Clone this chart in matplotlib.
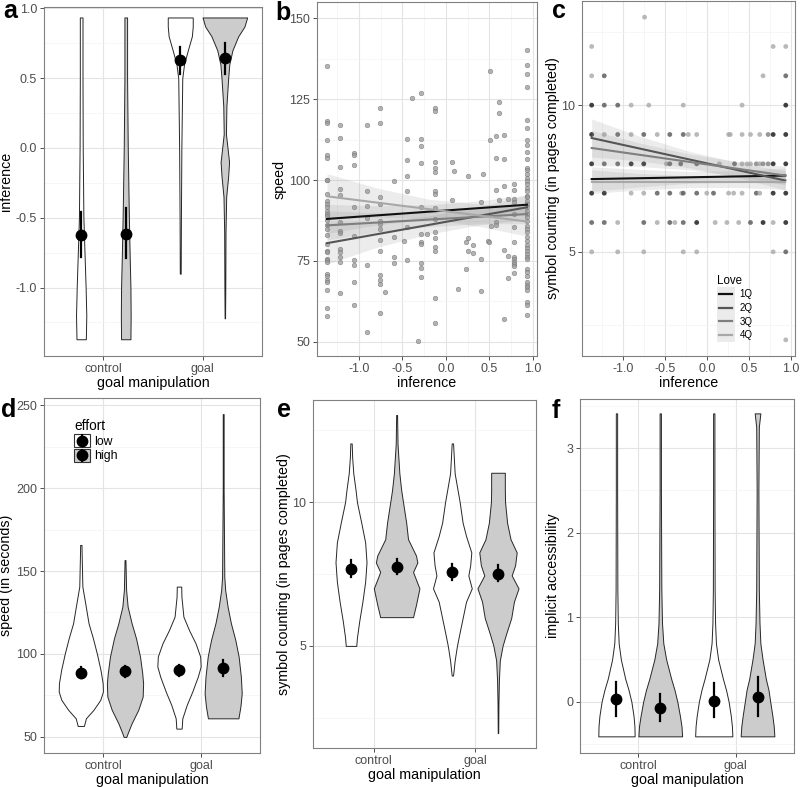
import numpy as np
import matplotlib
matplotlib.use("Agg")
import matplotlib.pyplot as plt
from matplotlib.lines import Line2D
from matplotlib.patches import Patch, Rectangle
from matplotlib.legend_handler import HandlerBase
from matplotlib.ticker import MultipleLocator

plt.rcParams["font.family"] = ["Liberation Sans", "DejaVu Sans"]

W, H = 800, 787

# ---- shared categories ----
groups = ["control", "goal"]
effort = ["low", "high"]
effort_fill = ["white", "#cccccc"]
love = ["1Q", "2Q", "3Q", "4Q"]
love_col = ["#111111", "#555555", "#7f7f7f", "#a8a8a8"]

# ---- panel a: inference by goal x effort (violins: y levels, relative widths) ----
# order: control-low, control-high, goal-low, goal-high
a_vy = [
    [-1.37, -1.2, -1.0, -0.75, -0.5, 0.0, 0.5, 0.935],
    [-1.37, -1.2, -1.0, -0.8, -0.5, 0.0, 0.5, 0.935],
    [-0.9, -0.5, 0.0, 0.5, 0.6, 0.7, 0.8, 0.87, 0.935],
    [-1.22, -1.0, -0.6, -0.35, -0.2, -0.1, 0.0, 0.1, 0.3, 0.5, 0.6, 0.7, 0.8, 0.87, 0.935],
]
a_vw = [
    [0.21, 0.23, 0.2, 0.15, 0.1, 0.07, 0.06, 0.06],
    [0.21, 0.22, 0.21, 0.18, 0.14, 0.09, 0.06, 0.06],
    [0.02, 0.03, 0.05, 0.09, 0.17, 0.34, 0.52, 0.56, 0.56],
    [0.01, 0.02, 0.03, 0.06, 0.15, 0.19, 0.12, 0.05, 0.07, 0.15, 0.2, 0.34, 0.6, 0.88, 1.0],
]
a_mean = [-0.62, -0.615, 0.63, 0.643]
a_lo = [-0.78, -0.79, 0.53, 0.53]
a_hi = [-0.46, -0.43, 0.72, 0.75]

# ---- panel b: speed vs inference ----
b_cols_x = [-1.37, -1.22, -1.06, -0.91, -0.755, -0.70, -0.60, -0.48, -0.447, -0.39,
            -0.32, -0.29, -0.22, -0.13, 0.07, 0.09, 0.135, 0.23, 0.25, 0.26, 0.31,
            0.41, 0.43, 0.48, 0.50, 0.51, 0.52, 0.58, 0.615, 0.67, 0.72, 0.78, 0.935]
b_cols_y = [
    [135.2, 118.3, 117.8, 112.4, 107.8, 106.7, 100, 100, 95.7, 93.6, 92.6, 91.6, 90.6,
     89.5, 88.8, 87.8, 86.2, 85, 82.9, 80.3, 78.2, 77.7, 75.7, 75.2, 74.6, 71, 70.5,
     69, 68.5, 65.9, 60.6, 58],
    [117, 113, 104.1, 97.4, 95.4, 87, 84.4, 83.7, 78.8, 77.7, 76.2, 74.6, 65.2],
    [108.5, 107.7, 104.8, 91.6, 82.7, 75.2, 73.8, 68.5, 61.3],
    [117.1, 96.5, 91.9, 88.2, 73.8, 53.1],
    [122.3, 117.7, 94.7, 92.6, 87.5, 86.5, 85, 81.5, 78, 70.8, 69.2, 68, 59],
    [65.4],
    [99.6, 82.3, 76.2, 74.3],
    [81.3],
    [112.6, 106.2, 101.4, 96.7, 85.4, 75.4],
    [125.3],
    [50.2],
    [127.1, 112.6, 110.6, 105.2, 91.6, 83.4, 80.8, 80.1, 74.4, 72.8, 70],
    [83.4],
    [122.4, 121.4, 105.6, 103.6, 102.6, 96.7, 95.7, 91.3, 88, 84.1, 82, 79.3, 78.2,
     63.4, 55.7],
    [105.6, 93.9],
    [102.9],
    [66.2],
    [80.8, 72.4],
    [101.4],
    [82, 78],
    [79.8, 77.4],
    [93.1, 75.5, 65.7],
    [102],
    [81.3],
    [81],
    [133.9, 112.5],
    [85.9],
    [113.7, 106.8, 97.1, 87, 86.2],
    [124.1, 120.8, 93.9],
    [114, 106.4, 98.2, 78.5, 57],
    [94.2, 76.5, 69.8],
    [98.8, 97.1, 94.2, 93.1, 89.5, 85.6, 81, 76.2, 75.5, 74.8, 74.1, 73.4, 71.4],
    [140.1, 135.5, 132.7, 128.8, 118.6, 116.1, 112.5, 110.9, 108.8, 106.4, 103.9,
     103.1, 101.9, 100.8, 99.8, 98.8, 97.7, 96.5, 95.2, 94.7, 93.6, 92.6, 91.6, 90.6,
     89.5, 88.5, 87.5, 85.9, 84.9, 83.9, 82.3, 81.3, 79.8, 78.9, 78.2, 77.2, 76.2,
     75.7, 72.6, 71.6, 70.5, 68.5, 67.7, 66.9, 65.9, 62.3, 61.3, 58.2],
]
fit_x = [-1.37, 0.935]
band_x = [-1.37, -0.8, -0.2, 0.4, 0.935]
b_fit_y = [[88.0, 92.4], [80.5, 91.6], [86.0, 89.5], [95.0, 87.2]]
b_band_lo = [[83.5, 86.1, 88.0, 89.2, 89.4], [74.0, 79.2, 83.3, 86.2, 87.8],
             [81.5, 83.9, 85.6, 86.5, 86.5], [88.0, 88.6, 88.1, 85.6, 82.7]]
b_band_hi = [[92.5, 92.1, 92.4, 93.6, 95.4], [87.0, 87.2, 88.9, 91.8, 95.4],
             [90.5, 89.9, 90.0, 90.9, 92.5], [102.0, 97.6, 94.1, 92.6, 91.7]]

# ---- panel c: symbol counting vs inference (point colour = Love quartile index) ----
c_x = [-0.74,
       -1.37, 0.79, 0.94,
       -1.37, -1.22, 0.67, 0.94,
       -1.37, -1.22, -1.06, -0.90, -0.69, -0.28, 0.42, 0.94,
       -1.37, -1.22, -1.06, -0.90, -0.75, -0.59, -0.44, -0.28, -0.22, -0.12, 0.26, 0.28,
       0.42, 0.52, 0.63, 0.73, 0.79, 0.94,
       -1.37, -1.22, -1.06, -0.90, -0.75, -0.48, -0.44, -0.31, -0.12, 0.15, 0.33, 0.42,
       0.48, 0.52, 0.59, 0.63, 0.67, 0.73, 0.79, 0.94,
       -1.37, -1.22, -0.90, -0.75, -0.59, -0.44, -0.30, -0.28, -0.12, 0.0, 0.08, 0.26,
       0.32, 0.42, 0.59, 0.63, 0.79, 0.94,
       -1.37, -1.22, -1.06, -0.75, -0.59, -0.44, -0.38, -0.28, -0.12, 0.10, 0.24, 0.38,
       0.52, 0.67, 0.79, 0.94,
       -1.37, -1.06, -0.75, -0.28, -0.12, 0.79, 0.94,
       0.94]
c_y = ([13] + [12] * 3 + [11] * 4 + [10] * 8 + [9] * 18 + [8] * 20 + [7] * 18
       + [6] * 16 + [5] * 7 + [2])
c_q = [3,
       3, 3, 3,
       3, 1, 3, 1,
       0, 1, 1, 3, 3, 3, 3, 0,
       0, 3, 1, 3, 1, 3, 1, 1, 3, 3, 3, 3, 3, 3, 3, 2, 0, 0,
       0, 1, 1, 0, 0, 3, 1, 1, 1, 3, 1, 3, 3, 3, 2, 3, 2, 2, 0, 0,
       0, 0, 3, 3, 1, 1, 3, 1, 1, 3, 1, 3, 3, 3, 1, 3, 0, 0,
       1, 1, 3, 1, 3, 1, 3, 1, 0, 3, 3, 3, 1, 0, 3, 0,
       3, 3, 3, 3, 3, 3, 1,
       3]
c_fit_y = [[7.48, 7.6], [8.88, 7.43], [8.54, 7.6], [7.39, 7.39]]
c_band_lo = [[7.06, 7.21, 7.34, 7.37, 7.34], [8.23, 8.10, 7.86, 7.52, 7.10],
             [7.94, 7.91, 7.79, 7.57, 7.28], [6.99, 7.11, 7.19, 7.19, 7.13]]
c_band_hi = [[7.90, 7.81, 7.74, 7.77, 7.86], [9.53, 8.94, 8.42, 8.02, 7.76],
             [9.14, 8.71, 8.33, 8.07, 7.92], [7.79, 7.67, 7.59, 7.59, 7.65]]

# ---- panel d: speed (in seconds) ----
d_vy = [
    [56.6, 61.2, 66.3, 72.3, 77.3, 82.3, 90.4, 100, 109.4, 118.5, 130.5, 140.6, 158.6, 165.7],
    [50, 52.2, 58.2, 66.3, 74.3, 82.3, 88.4, 98.4, 109.4, 118.5, 128.5, 138.6, 156.6],
    [55, 61.2, 69.3, 77.3, 86.3, 92.4, 98.4, 106.4, 114.5, 122.5, 134.5, 140.6],
    [61.2, 68.3, 76.3, 86.3, 98.4, 108.4, 118.5, 128.5, 138.6, 146.6, 198.8, 244.6],
]
d_vw = [
    [0.14, 0.23, 0.57, 0.88, 1.0, 0.99, 0.89, 0.73, 0.55, 0.35, 0.2, 0.07, 0.04, 0.03],
    [0.06, 0.12, 0.3, 0.6, 0.8, 0.82, 0.78, 0.68, 0.5, 0.3, 0.12, 0.05, 0.02],
    [0.12, 0.15, 0.35, 0.6, 0.85, 0.98, 0.96, 0.75, 0.45, 0.2, 0.11, 0.1],
    [0.69, 0.78, 0.84, 0.8, 0.7, 0.55, 0.35, 0.2, 0.09, 0.05, 0.02, 0.02],
]
d_mean = [88.8, 89.5, 90.1, 91.5]
d_lo = [85.5, 86.0, 86.8, 87.0]
d_hi = [92.2, 93.0, 93.5, 96.4]

# ---- panel e: symbol counting ----
e_vy = [
    [5.0, 5.29, 5.86, 6.54, 7.23, 7.91, 8.6, 9.28, 10.0, 10.42, 11.0, 11.56, 12.04],
    [6.0, 6.43, 7.0, 7.57, 7.9, 8.14, 8.71, 9.28, 10.0, 10.42, 11.0, 12.02, 13.03],
    [3.97, 4.49, 5.0, 5.4, 5.97, 6.54, 7.0, 7.45, 7.8, 8.25, 8.82, 9.28, 10.0, 11.0, 12.04],
    [1.97, 3.0, 3.8, 4.49, 5.0, 5.4, 5.97, 6.54, 7.0, 7.45, 7.8, 8.25, 8.71, 9.28,
     10.0, 10.42, 11.02],
]
e_vw = [
    [0.23, 0.26, 0.36, 0.5, 0.62, 0.68, 0.62, 0.45, 0.26, 0.2, 0.1, 0.05, 0.03],
    [0.72, 0.85, 1.0, 0.72, 0.91, 0.85, 0.5, 0.42, 0.28, 0.2, 0.12, 0.04, 0.02],
    [0.03, 0.1, 0.2, 0.3, 0.45, 0.6, 0.85, 0.7, 0.78, 0.83, 0.6, 0.45, 0.32, 0.1, 0.03],
    [0.01, 0.02, 0.04, 0.08, 0.2, 0.35, 0.58, 0.7, 0.9, 0.6, 0.75, 0.82, 0.55, 0.4,
     0.31, 0.3, 0.3],
]
e_mean = [7.66, 7.74, 7.57, 7.5]
e_lo = [7.4, 7.5, 7.3, 7.25]
e_hi = [7.97, 8.02, 7.85, 7.8]

# ---- panel f: implicit accessibility ----
f_vy = [-0.41, -0.29, -0.17, 0.0, 0.14, 0.27, 0.5, 0.69, 0.93, 1.32, 2.5, 3.25, 3.41]
f_vw = [
    [0.83, 0.82, 0.78, 0.68, 0.55, 0.4, 0.2, 0.1, 0.06, 0.04, 0.03, 0.03, 0.03],
    [1.0, 0.97, 0.9, 0.78, 0.65, 0.5, 0.27, 0.14, 0.08, 0.05, 0.03, 0.03, 0.03],
    [0.85, 0.83, 0.78, 0.68, 0.56, 0.42, 0.2, 0.1, 0.06, 0.04, 0.03, 0.03, 0.03],
    [0.77, 0.74, 0.68, 0.58, 0.5, 0.38, 0.23, 0.13, 0.09, 0.06, 0.04, 0.06, 0.13],
]
f_mean = [0.03, -0.08, 0.01, 0.055]
f_lo = [-0.17, -0.23, -0.18, -0.17]
f_hi = [0.23, 0.09, 0.22, 0.29]

DODGE = 0.225
slots = [g + s for g in (1, 2) for s in (-DODGE, DODGE)]
TICK_FS = 9
TITLE_FS = 10.3


class EffortKey(HandlerBase):
    # ggplot-style key: filled box with a pointrange on top
    def create_artists(self, legend, orig, xd, yd, w, h, fontsize, trans):
        box = Rectangle((-xd, -yd), w, h, facecolor=orig.get_facecolor(),
                        edgecolor="#333333", lw=0.8, transform=trans)
        cx, cy = -xd + w / 2, -yd + h / 2
        bar = Line2D([cx, cx], [cy - 0.42 * h, cy + 0.42 * h], color="black", lw=1.5,
                     transform=trans)
        dot = Line2D([cx], [cy], marker="o", ms=7.5, color="black", lw=0, transform=trans)
        return [box, bar, dot]


class LoveKey(HandlerBase):
    def create_artists(self, legend, orig, xd, yd, w, h, fontsize, trans):
        box = Rectangle((-xd, -yd), w, h, facecolor="#ebebeb", edgecolor="none",
                        transform=trans)
        cy = -yd + h / 2
        ln = Line2D([-xd + 0.15 * w, -xd + 0.85 * w], [cy, cy], color=orig.get_color(),
                    lw=1.6, transform=trans)
        return [box, ln]


def add_ax(l, t, r, b):
    return fig.add_axes([l / W, 1 - b / H, (r - l) / W, (b - t) / H])


def style(ax, ylim, ymaj, xlim=(0.4, 2.6), xmaj=None):
    ax.set_ylim(*ylim)
    ax.set_xlim(*xlim)
    ax.yaxis.set_major_locator(MultipleLocator(ymaj))
    ax.yaxis.set_minor_locator(MultipleLocator(ymaj / 2))
    if xmaj:
        ax.xaxis.set_major_locator(MultipleLocator(xmaj))
        ax.xaxis.set_minor_locator(MultipleLocator(xmaj / 2))
    else:
        ax.set_xticks([1, 2], groups)
    ax.grid(which="major", color="#e4e4e4", lw=0.8)
    ax.grid(which="minor", color="#f3f3f3", lw=0.5)
    ax.set_axisbelow(True)
    for s in ax.spines.values():
        s.set_color("#808080")
        s.set_linewidth(0.8)
    ax.tick_params(which="major", length=3, width=0.6, color="#333333",
                   labelsize=TICK_FS, labelcolor="#4d4d4d", pad=2)
    ax.tick_params(which="minor", length=0)


def violins(ax, vys, vws, means, lo, hi):
    for i, pos in enumerate(slots):
        ys = np.asarray(vys[i] if isinstance(vys[0], list) else vys)
        hw = np.asarray(vws[i]) * DODGE
        ax.fill_betweenx(ys, pos - hw, pos + hw, facecolor=effort_fill[i % 2],
                         edgecolor="#262626", lw=0.7, zorder=2)
        ax.plot([pos, pos], [lo[i], hi[i]], color="black", lw=1.6, zorder=4)
        ax.plot(pos, means[i], "o", ms=7.5, color="black", zorder=5)
    ax.set_xlabel("goal manipulation", fontsize=TITLE_FS, labelpad=1)


def fits(ax, fit_y, lo, hi):
    for q in range(4):
        ax.fill_between(band_x, lo[q], hi[q], color="#8c8c8c", alpha=0.16, lw=0, zorder=2)
    for q in range(4):
        ax.plot(fit_x, fit_y[q], color=love_col[q], lw=1.5, zorder=3)


fig = plt.figure(figsize=(W / 100, H / 100), dpi=100)

# a
ax = add_ax(44, 7, 262, 356)
style(ax, (-1.49, 1.01), 0.5)
violins(ax, a_vy, a_vw, a_mean, a_lo, a_hi)
ax.yaxis.set_major_formatter(lambda v, p: f"{v:.1f}")
ax.set_ylabel("inference", fontsize=TITLE_FS, labelpad=2)

# b
ax = add_ax(317, 2, 537, 356)
style(ax, (45.6, 155.1), 25, xlim=(-1.485, 1.05), xmaj=0.5)
for x, ys in zip(b_cols_x, b_cols_y):
    ax.scatter([x] * len(ys), ys, s=11, facecolor="#9a9a9a", edgecolor="#6e6e6e",
               lw=0.4, alpha=0.75, zorder=2)
fits(ax, b_fit_y, b_band_lo, b_band_hi)
ax.xaxis.set_major_formatter(lambda v, p: f"{v:.1f}")
ax.set_xlabel("inference", fontsize=TITLE_FS, labelpad=1)
ax.set_ylabel("speed", fontsize=TITLE_FS, labelpad=2)

# c
ax = add_ax(582, 1, 795, 356)
style(ax, (1.45, 13.55), 5, xlim=(-1.485, 1.05), xmaj=0.5)
ax.scatter(c_x, c_y, s=12, c=[love_col[q] for q in c_q], alpha=0.8, lw=0, zorder=2)
fits(ax, c_fit_y, c_band_lo, c_band_hi)
ax.xaxis.set_major_formatter(lambda v, p: f"{v:.1f}")
ax.set_xlabel("inference", fontsize=TITLE_FS, labelpad=1)
ax.set_ylabel("symbol counting (in pages completed)", fontsize=TITLE_FS, labelpad=1)
handles = [Line2D([], [], color=love_col[q]) for q in range(4)]
leg = ax.legend(handles, love, title="Love", loc="lower left", bbox_to_anchor=(0.6, 0.02),
                frameon=False, fontsize=7, title_fontsize=8.3, handlelength=1.85,
                handleheight=1.8, labelspacing=0.0, borderpad=0.2, handletextpad=0.5,
                handler_map={Line2D: LoveKey()})
leg._legend_box.align = "left"

# d
ax = add_ax(44, 398, 260, 753)
style(ax, (40.3, 254.3), 50)
violins(ax, d_vy, d_vw, d_mean, d_lo, d_hi)
ax.set_ylabel("speed (in seconds)", fontsize=TITLE_FS, labelpad=2)
handles = [Patch(facecolor=effort_fill[i]) for i in range(2)]
leg = ax.legend(handles, effort, title="effort", loc="upper left", bbox_to_anchor=(0.1, 0.965),
                frameon=False, fontsize=8.8, title_fontsize=9.8, handlelength=1.3,
                handleheight=1.3, labelspacing=0.08, borderpad=0.2, handletextpad=0.3,
                handler_map={Patch: EffortKey()})
leg._legend_box.align = "left"

# e
ax = add_ax(313, 400, 536, 748)
style(ax, (1.45, 13.55), 5)
violins(ax, e_vy, e_vw, e_mean, e_lo, e_hi)
ax.set_ylabel("symbol counting (in pages completed)", fontsize=TITLE_FS, labelpad=1)

# f
ax = add_ax(580, 399, 794, 753)
style(ax, (-0.607, 3.58), 1)
violins(ax, f_vy, f_vw, f_mean, f_lo, f_hi)
ax.set_ylabel("implicit accessibility", fontsize=TITLE_FS, labelpad=4)

# panel letters
for lab, x, y in [("a", 3, 18), ("b", 275, 20), ("c", 552, 18),
                  ("d", 1, 417), ("e", 277, 417), ("f", 552, 418)]:
    fig.text(x / W, 1 - y / H, lab, fontsize=18, fontweight="bold", va="baseline")

fig.savefig("out.png", dpi=100)
